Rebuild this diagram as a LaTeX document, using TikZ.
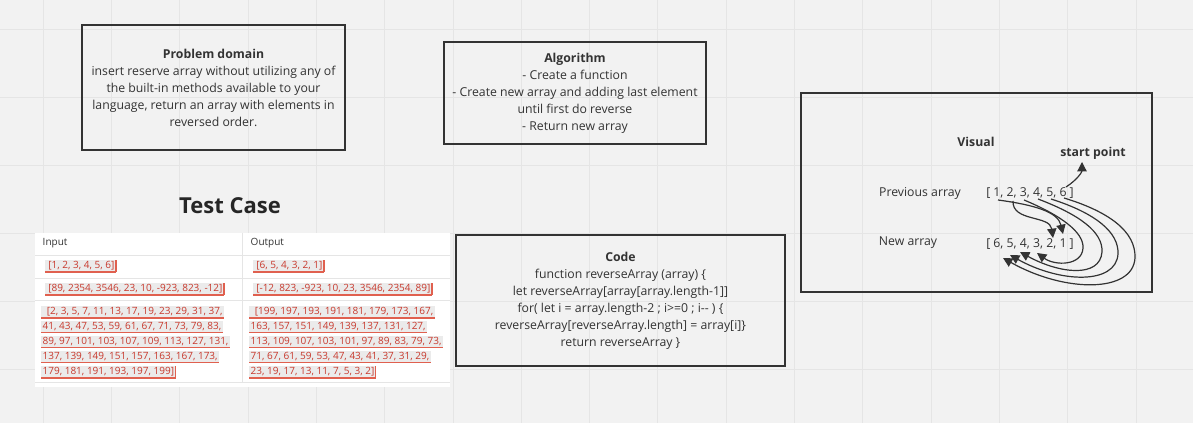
\documentclass[tikz,border=0pt]{standalone}
\usepackage{fontspec}
\setmainfont{Open Sans}
\usetikzlibrary{arrows.meta}
\definecolor{board}{HTML}{F2F2F2}
\definecolor{gridline}{HTML}{E5E5E5}
\definecolor{ink}{HTML}{333333}
\definecolor{hlgray}{HTML}{EBEBEB}
\definecolor{cellred}{HTML}{C8392D}
\definecolor{cellline}{HTML}{E0604F}
\newcommand{\boxfont}{\fontsize{9.2}{12.75}\selectfont}
\newcommand{\tablefont}{\fontsize{7.5}{9}\selectfont}
\tikzstyle{panel}=[rectangle,draw=ink,line width=1.1pt,text=ink,align=center,font=\boxfont]
\tikzstyle{vtext}=[text=ink,font=\boxfont]
\tikzstyle{cell}=[anchor=west,fill=hlgray,text=cellred,inner sep=1pt,font=\tablefont,
  append after command={(\tikzlastnode.south west) edge[draw=cellline,line width=0.8pt] (\tikzlastnode.south east)}]
\tikzstyle{cellend}=[cell,
  append after command={(\tikzlastnode.south east) edge[draw=cellline,line width=0.8pt] (\tikzlastnode.north east)}]
\tikzstyle{flow}=[-{Triangle[length=7pt,width=7pt]},line width=0.9pt,draw=ink]

\begin{document}
\begin{tikzpicture}[x=0.75pt,y=-0.75pt]
\useasboundingbox (0,0) rectangle (1193,423);
\fill[board] (0,0) rectangle (1193,423);
\foreach \i in {0,...,16} \draw[gridline] (43+68.3*\i,0) -- (43+68.3*\i,423);
\foreach \j in {0,...,5} \draw[gridline] (0,29+68*\j) -- (1193,29+68*\j);

% text boxes
\node[panel,minimum width=197pt,minimum height=94pt] (domain) at (213.5,87.5)
  {\textbf{Problem domain}\\insert reserve array without utilizing any of\\the built-in methods available to your\\language, return an array with elements in\\reversed order.};
\node[panel,minimum width=196.5pt,minimum height=76.5pt] (algo) at (575,93)
  {\textbf{Algorithm}\\- Create a function\\- Create new array and adding last element\\until first do reverse\\- Return new array};
\node[panel,minimum width=246.75pt,minimum height=98.25pt] (code) at (620.5,300.5)
  {\textbf{Code}\\function reverseArray (array) \{\\let reverseArray[array[array.length-1]]\\for( let i = array.length-2 ; i>=0 ; i-{}- ) \{\\reverseArray[reverseArray.length] = array[i]\}\\return reverseArray \}};

% test cases
\node[text=black!85,font=\fontsize{16.5}{20}\selectfont\bfseries] (test) at (230,206) {Test Case};
\fill[white] (35,233) rectangle (450,387);
\draw[gridline] (35,255) -- (450,255);
\draw[gridline] (35,278) -- (450,278);
\draw[gridline] (35,300) -- (450,300);
\draw[gridline] (35,382) -- (450,382);
\draw[gridline] (242,233) -- (242,382);
\node[anchor=west,text=ink,font=\tablefont] (inhead) at (38,243) {Input};
\node[anchor=west,text=ink,font=\tablefont] (outhead) at (246,243) {Output};
\node[cellend] (ina) at (45,266) {\,[1, 2, 3, 4, 5, 6]};
\node[cellend] (outa) at (253,266) {\,[6, 5, 4, 3, 2, 1]};
\node[cellend] (inb) at (45,289) {\,[89, 2354, 3546, 23, 10, -923, 823, -12]};
\node[cellend] (outb) at (253,289) {\,[-12, 823, -923, 10, 23, 3546, 2354, 89]};
\foreach \l [count=\k] in {{\ \,[2, 3, 5, 7, 11, 13, 17, 19, 23, 29, 31, 37,},{41, 43, 47, 53, 59, 61, 67, 71, 73, 79, 83,},
  {89, 97, 101, 103, 107, 109, 113, 127, 131,},{137, 139, 149, 151, 157, 163, 167, 173,}}
  \node[cell] (inc\k) at (41,312+15*\k-15) {\l};
\node[cellend] (inc5) at (41,372) {179, 181, 191, 193, 197, 199]};
\foreach \l [count=\k] in {{\ \,[199, 197, 193, 191, 181, 179, 173, 167,},{163, 157, 151, 149, 139, 137, 131, 127,},
  {113, 109, 107, 103, 101, 97, 89, 83, 79, 73,},{71, 67, 61, 59, 53, 47, 43, 41, 37, 31, 29,}}
  \node[cell] (outc\k) at (249,312+15*\k-15) {\l};
\node[cellend] (outc5) at (249,372) {23, 19, 17, 13, 11, 7, 5, 3, 2]};

% visual
\node[draw=ink,line width=1.1pt,minimum width=263.25pt,minimum height=149.25pt] (visual) at (976.5,192.5) {};
\node[vtext,font=\boxfont\bfseries] (vtitle) at (976,142) {Visual};
\node[vtext,font=\boxfont\bfseries] (start) at (1093,153) {start point};
\node[vtext] (prevlbl) at (920,193) {Previous array};
\node[vtext] (prev) at (1030,193) {[ 1, 2, 3, 4, 5, 6 ]};
\node[vtext] (newlbl) at (908,243) {New array};
\node[vtext] (new) at (1030,244) {[ 6, 5, 4, 3, 2, 1 ]};
\coordinate (p1) at (998,200);
\coordinate (p2) at (1013,201);
\coordinate (p3) at (1024,200);
\coordinate (p4) at (1038,199);
\coordinate (p5) at (1051,199);
\coordinate (p6) at (1064,198);
\coordinate (top6) at (1066,187);
\coordinate (sp) at (1082,162);
\coordinate (q1) at (1063,234);
\coordinate (q2) at (1053,238);
\coordinate (q3) at (1037,253);
\coordinate (q4) at (1020,252);
\coordinate (q5) at (1010,255);
\coordinate (q6) at (1003,258);
\draw[flow] (top6) .. controls (1077,180) and (1082,172) .. (sp);
\draw[flow] (p1) .. controls (1035,205) and (1058,212) .. (q1);
\draw[flow] (p2) .. controls (1012,222) and (1050,215) .. (q2);
\draw[flow] (p3) .. controls (1060,215) and (1084,232) .. (1083,248) .. controls (1082,266) and (1055,266) .. (q3);
\draw[flow] (p4) .. controls (1080,215) and (1103,232) .. (1102,252) .. controls (1100,278) and (1060,274) .. (q4);
\draw[flow] (p5) .. controls (1095,213) and (1119,232) .. (1118,254) .. controls (1116,285) and (1060,283) .. (q5);
\draw[flow] (p6) .. controls (1110,212) and (1136,232) .. (1135,258) .. controls (1133,293) and (1065,293) .. (q6);
\end{tikzpicture}
\end{document}
